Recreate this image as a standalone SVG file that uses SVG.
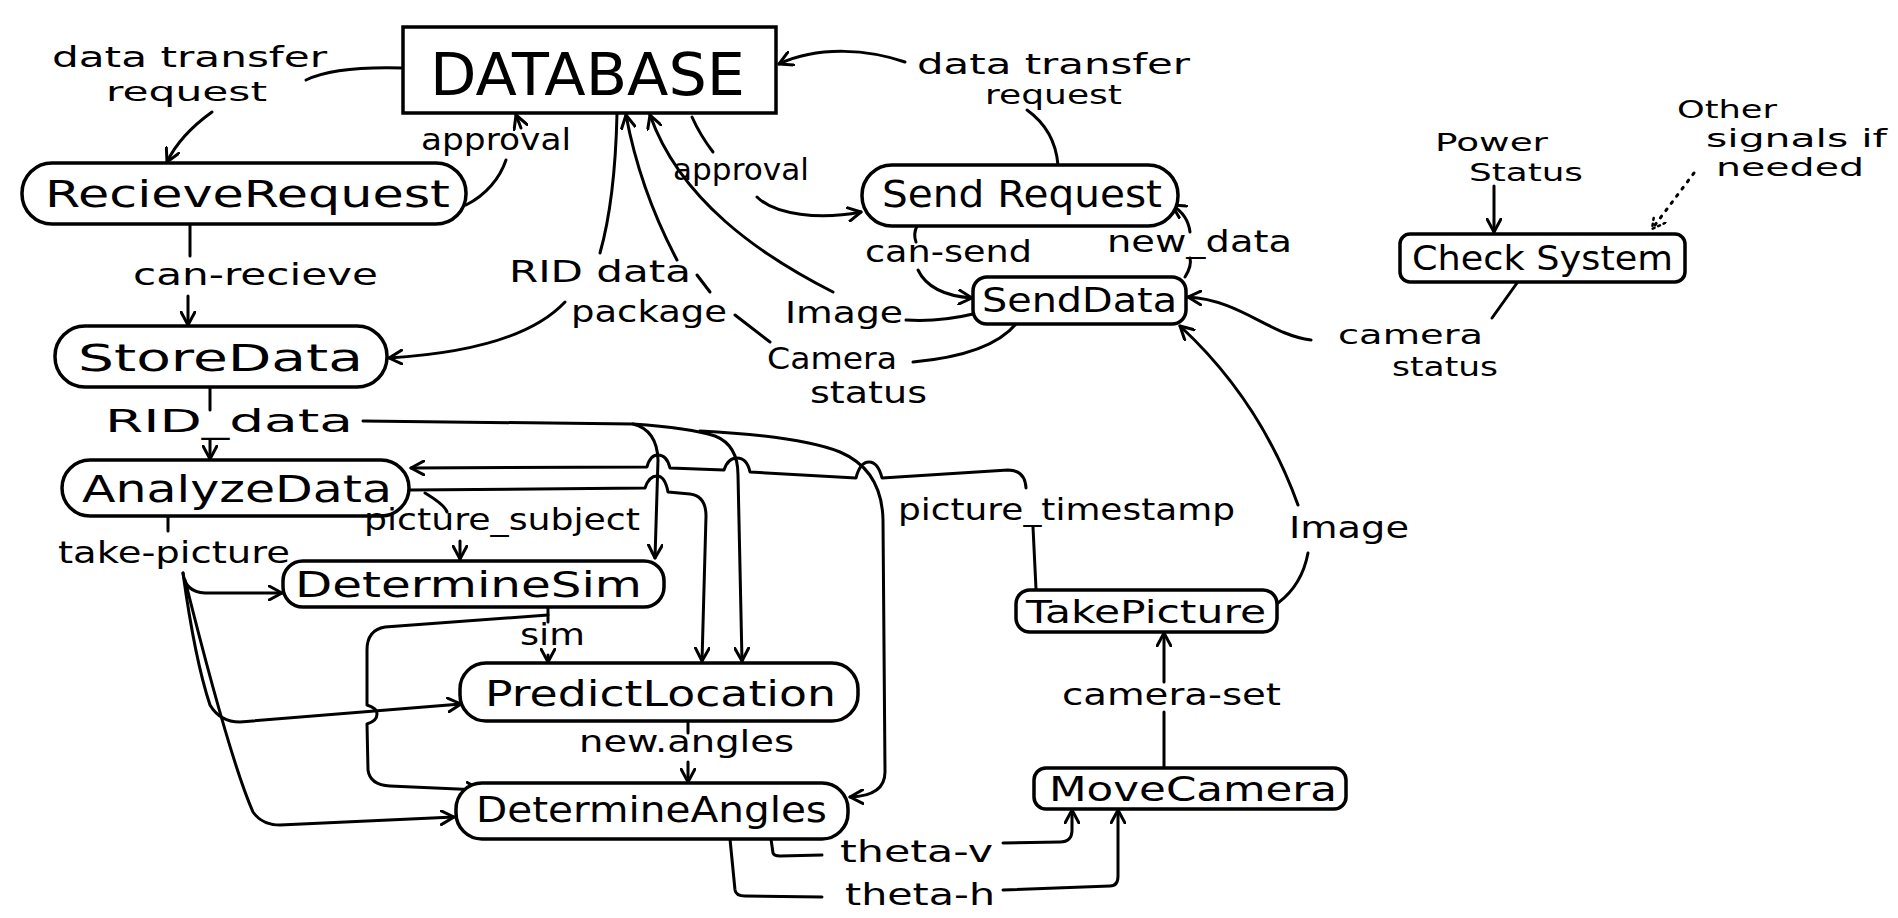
<svg xmlns="http://www.w3.org/2000/svg" width="1898" height="918" viewBox="0 0 1898 918">
<defs>
<marker id="ah" viewBox="0 0 16 16" refX="14" refY="8" markerWidth="16" markerHeight="16" markerUnits="userSpaceOnUse" orient="auto">
<path d="M1 1 L14 8 L1 15" fill="none" stroke="#000" stroke-width="3" stroke-linecap="round" stroke-linejoin="round"/>
</marker>
<marker id="ahd" viewBox="0 0 16 16" refX="14" refY="8" markerWidth="16" markerHeight="16" markerUnits="userSpaceOnUse" orient="auto">
<path d="M1 1 L14 8 L1 15" fill="none" stroke="#000" stroke-width="2.5" stroke-dasharray="2 4" stroke-linecap="round"/>
</marker>
<style>
.n{fill:#fff;stroke:#000;stroke-width:3.5}
.t{font-family:"DejaVu Sans","Liberation Sans",sans-serif;fill:#000}
.lt{font-size:30px}
.c path{fill:none;stroke:#000;stroke-width:3;stroke-linecap:round;stroke-linejoin:round}
.a{marker-end:url(#ah)}
</style>
</defs>
<rect width="1898" height="918" fill="#fff"/>

<g class="c" id="connectors">
<path d="M306 80 Q335 66 403 68"/>
<path class="a" d="M212 112 Q180 135 167 162"/>
<path d="M466 205 C486 195 500 178 506 160"/>
<path class="a" d="M521 128 L516 115"/>
<path d="M190 225 L190 256"/>
<path class="a" d="M188 296 L188 325"/>
<path d="M617 114 Q615 200 600 253"/>
<path class="a" d="M565 302 Q520 350 389 358"/>
<path d="M1016 324 Q990 355 913 362"/>
<path d="M770 342 L735 315"/>
<path d="M697 275 L710 292"/>
<path class="a" d="M677 260 Q640 190 626 115"/>
<path d="M906 320 Q940 322 973 314"/>
<path class="a" d="M833 292 C760 255 680 200 650 115"/>
<path d="M692 117 Q700 135 713 152"/>
<path class="a" d="M757 197 C775 215 820 220 861 212"/>
<path class="a" d="M905 62 C870 50 820 45 779 64"/>
<path d="M1027 110 Q1055 130 1058 165"/>
<path d="M917 226 Q913 234 916 242"/>
<path class="a" d="M918 270 Q930 295 972 298"/>
<path d="M1185 277 Q1192 266 1190 258"/>
<path class="a" d="M1190 232 Q1188 215 1172 205"/>
<path class="a" d="M1494 186 L1494 232"/>
<path d="M1694 173 L1652 229" stroke-dasharray="2 7" style="marker-end:url(#ahd)"/>
<path d="M1517 283 L1492 318"/>
<path class="a" d="M1311 340 C1270 335 1240 300 1188 297"/>
<path d="M1278 603 Q1302 585 1308 553"/>
<path class="a" d="M1298 505 Q1260 400 1180 326"/>
<path d="M1036 589 L1033 527"/>
<path class="a" d="M1026 488 Q1025 470 1008 470 L882 478 Q878 462 869 462 Q860 462 856 478 L750 472 Q747 458 737 458 Q728 458 724 470 L670 468 Q667 455 658 455 Q650 455 647 467 L411 468"/>
<path d="M210 388 L210 410"/>
<path class="a" d="M210 440 L210 459"/>
<path class="a" d="M363 421 L633 424 Q657 430 658 460 L655 558"/>
<path class="a" d="M633 424 Q690 428 715 436 Q738 445 738 475 L742 661"/>
<path class="a" d="M700 431 Q800 436 840 452 Q882 470 883 520 L885 772 Q885 796 850 797"/>
<path class="a" d="M409 490 L645 488 Q649 476 657 476 Q665 476 668 492 L690 494 Q706 496 706 516 L702 661"/>
<path d="M425 493 Q445 505 447 512"/>
<path class="a" d="M460 541 L460 559"/>
<path d="M168 516 L168 531"/>
<path class="a" d="M183 573 Q185 592 205 593 L282 593"/>
<path class="a" d="M183 573 Q195 660 210 705 Q220 722 240 722 L461 704"/>
<path class="a" d="M185 580 Q230 760 253 812 Q262 825 280 825 L454 817"/>
<path d="M548 607 L548 622"/>
<path class="a" d="M548 655 L548 662"/>
<path class="a" d="M548 615 L385 627 Q367 630 367 650 L367 705 Q377 708 377 714 Q377 721 367 724 L368 770 Q370 785 390 786 L480 790"/>
<path d="M688 721 L688 733"/>
<path class="a" d="M688 762 L688 782"/>
<path d="M771 839 L773 853 Q774 856 780 856 L822 855"/>
<path class="a" d="M1003 843 L1060 842 Q1072 842 1072 830 L1072 810"/>
<path d="M730 839 L735 890 Q736 896 745 896 L822 897"/>
<path class="a" d="M1003 890 L1110 886 Q1118 886 1118 876 L1118 810"/>
<path d="M1164 768 L1164 712"/>
<path class="a" d="M1164 682 L1164 633"/>
</g>

<g id="n-database"><rect class="n" x="403" y="27" width="373" height="86"/><text class="t" x="430" y="95" font-size="58" textLength="315" lengthAdjust="spacingAndGlyphs">DATABASE</text></g>
<g id="n-recieverequest"><rect class="n" x="22" y="163" width="444" height="61" rx="30"/><text class="t" x="45" y="207" font-size="38" textLength="405" lengthAdjust="spacingAndGlyphs">RecieveRequest</text></g>
<g id="n-storedata"><rect class="n" x="55" y="326" width="332" height="61" rx="30"/><text class="t" x="78" y="371" font-size="38" textLength="285" lengthAdjust="spacingAndGlyphs">StoreData</text></g>
<g id="n-analyzedata"><rect class="n" x="62" y="460" width="347" height="56" rx="28"/><text class="t" x="82" y="502" font-size="38" textLength="310" lengthAdjust="spacingAndGlyphs">AnalyzeData</text></g>
<g id="n-determinesim"><rect class="n" x="283" y="561" width="381" height="46" rx="20"/><text class="t" x="295" y="597" font-size="36" textLength="347" lengthAdjust="spacingAndGlyphs">DetermineSim</text></g>
<g id="n-predictlocation"><rect class="n" x="460" y="663" width="398" height="58" rx="26"/><text class="t" x="485" y="706" font-size="36" textLength="351" lengthAdjust="spacingAndGlyphs">PredictLocation</text></g>
<g id="n-determineangles"><rect class="n" x="456" y="783" width="392" height="56" rx="26"/><text class="t" x="476" y="822" font-size="36" textLength="351" lengthAdjust="spacingAndGlyphs">DetermineAngles</text></g>
<g id="n-sendrequest"><rect class="n" x="862" y="165" width="316" height="61" rx="30"/><text class="t" x="882" y="207" font-size="38" textLength="280" lengthAdjust="spacingAndGlyphs">Send Request</text></g>
<g id="n-senddata"><rect class="n" x="973" y="277" width="213" height="47" rx="14"/><text class="t" x="982" y="312" font-size="34" textLength="195" lengthAdjust="spacingAndGlyphs">SendData</text></g>
<g id="n-checksystem"><rect class="n" x="1400" y="234" width="285" height="48" rx="10"/><text class="t" x="1412" y="270" font-size="34" textLength="261" lengthAdjust="spacingAndGlyphs">Check System</text></g>
<g id="n-takepicture"><rect class="n" x="1016" y="590" width="261" height="42" rx="14"/><text class="t" x="1026" y="623" font-size="32" textLength="240" lengthAdjust="spacingAndGlyphs">TakePicture</text></g>
<g id="n-movecamera"><rect class="n" x="1034" y="768" width="312" height="41" rx="12"/><text class="t" x="1049" y="801" font-size="34" textLength="288" lengthAdjust="spacingAndGlyphs">MoveCamera</text></g>

<g id="labels" class="t lt">
<text x="52" y="67" font-size="28" textLength="275" lengthAdjust="spacingAndGlyphs">data transfer</text>
<text x="106" y="101" font-size="26" textLength="161" lengthAdjust="spacingAndGlyphs">request</text>
<text x="421" y="150" textLength="150" lengthAdjust="spacingAndGlyphs">approval</text>
<text x="133" y="285" textLength="245" lengthAdjust="spacingAndGlyphs">can-recieve</text>
<text x="509" y="282" textLength="182" lengthAdjust="spacingAndGlyphs">RID data</text>
<text x="571" y="322" textLength="156" lengthAdjust="spacingAndGlyphs">package</text>
<text x="673" y="180" textLength="136" lengthAdjust="spacingAndGlyphs">approval</text>
<text x="785" y="323" textLength="118" lengthAdjust="spacingAndGlyphs">Image</text>
<text x="767" y="369" textLength="130" lengthAdjust="spacingAndGlyphs">Camera</text>
<text x="810" y="403" textLength="117" lengthAdjust="spacingAndGlyphs">status</text>
<text x="917" y="74" font-size="28" textLength="273" lengthAdjust="spacingAndGlyphs">data transfer</text>
<text x="985" y="104" font-size="26" textLength="137" lengthAdjust="spacingAndGlyphs">request</text>
<text x="865" y="262" textLength="167" lengthAdjust="spacingAndGlyphs">can-send</text>
<text x="1107" y="252" textLength="185" lengthAdjust="spacingAndGlyphs">new_data</text>
<text x="1435" y="151" font-size="25" textLength="113" lengthAdjust="spacingAndGlyphs">Power</text>
<text x="1469" y="181" font-size="25" textLength="114" lengthAdjust="spacingAndGlyphs">Status</text>
<text x="1677" y="118" font-size="24" textLength="100" lengthAdjust="spacingAndGlyphs">Other</text>
<text x="1706" y="147" font-size="24" textLength="181" lengthAdjust="spacingAndGlyphs">signals if</text>
<text x="1716" y="176" font-size="24" textLength="148" lengthAdjust="spacingAndGlyphs">needed</text>
<text x="1338" y="344" font-size="27" textLength="145" lengthAdjust="spacingAndGlyphs">camera</text>
<text x="1392" y="376" font-size="27" textLength="106" lengthAdjust="spacingAndGlyphs">status</text>
<text x="1289" y="538" textLength="120" lengthAdjust="spacingAndGlyphs">Image</text>
<text x="898" y="520" textLength="337" lengthAdjust="spacingAndGlyphs">picture_timestamp</text>
<text x="364" y="530" textLength="276" lengthAdjust="spacingAndGlyphs">picture_subject</text>
<text x="58" y="563" textLength="232" lengthAdjust="spacingAndGlyphs">take-picture</text>
<text x="105" y="432" font-size="32" textLength="248" lengthAdjust="spacingAndGlyphs">RID_data</text>
<text x="520" y="645" textLength="65" lengthAdjust="spacingAndGlyphs">sim</text>
<text x="579" y="752" textLength="215" lengthAdjust="spacingAndGlyphs">new.angles</text>
<text x="1062" y="705" textLength="219" lengthAdjust="spacingAndGlyphs">camera-set</text>
<text x="840" y="862" textLength="153" lengthAdjust="spacingAndGlyphs">theta-v</text>
<text x="845" y="905" textLength="150" lengthAdjust="spacingAndGlyphs">theta-h</text>
</g>
</svg>
